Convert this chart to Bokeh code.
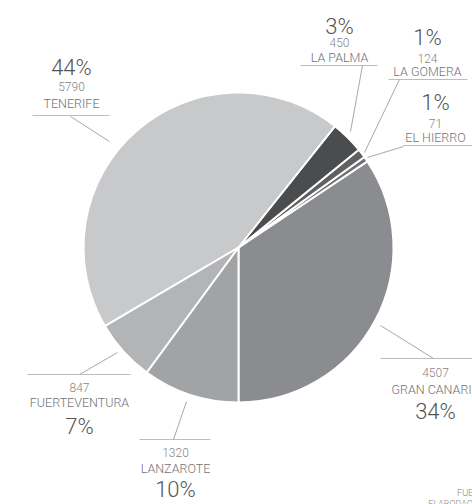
from bokeh.plotting import figure
from bokeh.models import ColumnDataSource, Range1d
from bokeh.embed import file_html
from bokeh.resources import INLINE
from bokeh.core.properties import value
import numpy as np

# ---- data ----
islands = ["GRAN CANARIA", "EL HIERRO", "LA GOMERA", "LA PALMA", "TENERIFE", "FUERTEVENTURA", "LANZAROTE"]
values = [4507, 71, 124, 450, 5790, 847, 1320]
pct_labels = ["34%", "1%", "1%", "3%", "44%", "7%", "10%"]
colors = ["#8b8c8f", "#707173", "#5f6062", "#4b4c4e", "#c8c9cb", "#b3b4b6", "#a2a3a5"]
source_lines = ["FUENTE:", "ELABORACIÓN PROPIA"]

# ---- layout (screen pixels of the picture) ----
W, H = 472, 504
def X(px):
    return px
def Y(py):
    return H - py

CX, CY, R = 238, 247, 155

# per label: center x, pct y, number y, name y, underline (x0, x1, y), leader (x0, y0, x1, y1)
layout = [
    dict(cx=435, py=411, ny=372, my=389, ul=(380, 480, 358), ld=(433, 358, 380, 325)),   # GRAN CANARIA
    dict(cx=435, py=102, ny=123, my=137, ul=(403, 480, 145), ld=(403, 146, 367, 157)),   # EL HIERRO
    dict(cx=427, py=37, ny=58, my=71, ul=(388, 467, 79), ld=(399, 79, 364, 152)),        # LA GOMERA
    dict(cx=339, py=26, ny=42, my=57, ul=(300, 377, 65), ld=(362, 65, 350, 131)),        # LA PALMA
    dict(cx=71, py=67, ny=86, my=103, ul=(32, 109, 115), ld=(70, 116, 109, 141)),        # TENERIFE
    dict(cx=79, py=426, ny=387, my=402, ul=(27, 130, 374), ld=(79, 374, 117, 352)),      # FUERTEVENTURA
    dict(cx=175, py=489, ny=452, my=468, ul=(139, 210, 439), ld=(173, 439, 186, 401)),   # LANZAROTE
]

total = float(sum(values))
frac = np.array(values) / total
ends = -np.pi / 2 + 2 * np.pi * np.cumsum(frac)
starts = ends - 2 * np.pi * frac

p = figure(width=W, height=H, x_range=Range1d(0, W), y_range=Range1d(0, H),
           output_backend="svg", toolbar_location=None, min_border=0,
           x_axis_location=None, y_axis_location=None)
p.grid.visible = False
p.outline_line_color = None
p.background_fill_color = "white"
p.border_fill_color = "white"

src = ColumnDataSource(dict(start=starts, end=ends, color=colors, name=islands))
p.wedge(x=X(CX), y=Y(CY), radius=R, start_angle="start", end_angle="end",
        fill_color="color", line_color="white", line_width=2, source=src)

FONT = value("'Roboto Light', Roboto")

for i, lay in enumerate(layout):
    x0, x1, uy = lay["ul"]
    p.line([X(x0), X(x1)], [Y(uy), Y(uy)], line_color="#bdbdbd", line_width=1.2)
    a0, b0, a1, b1 = lay["ld"]
    p.line([X(a0), X(a1)], [Y(b0), Y(b1)], line_color="#a8a8a8", line_width=1)
    p.text(x=[X(lay["cx"])], y=[Y(lay["py"])], text=[pct_labels[i]], text_font=FONT,
           text_font_size="22px", text_color="#555555", text_align="center", text_baseline="middle")
    p.text(x=[X(lay["cx"])], y=[Y(lay["ny"])], text=[str(values[i])], text_font=FONT,
           text_font_size="12px", text_color="#858585", text_align="center", text_baseline="middle")
    p.text(x=[X(lay["cx"])], y=[Y(lay["my"])], text=[islands[i]], text_font=FONT,
           text_font_size="12.5px", text_color="#727272", text_align="center", text_baseline="middle")

p.text(x=[X(474), X(474)], y=[Y(492), Y(503)], text=source_lines, text_font=FONT,
       text_font_size="9px", text_color="#8a8a8a", text_align="center", text_baseline="middle")

open("out.html", "w").write(file_html(p, INLINE))
